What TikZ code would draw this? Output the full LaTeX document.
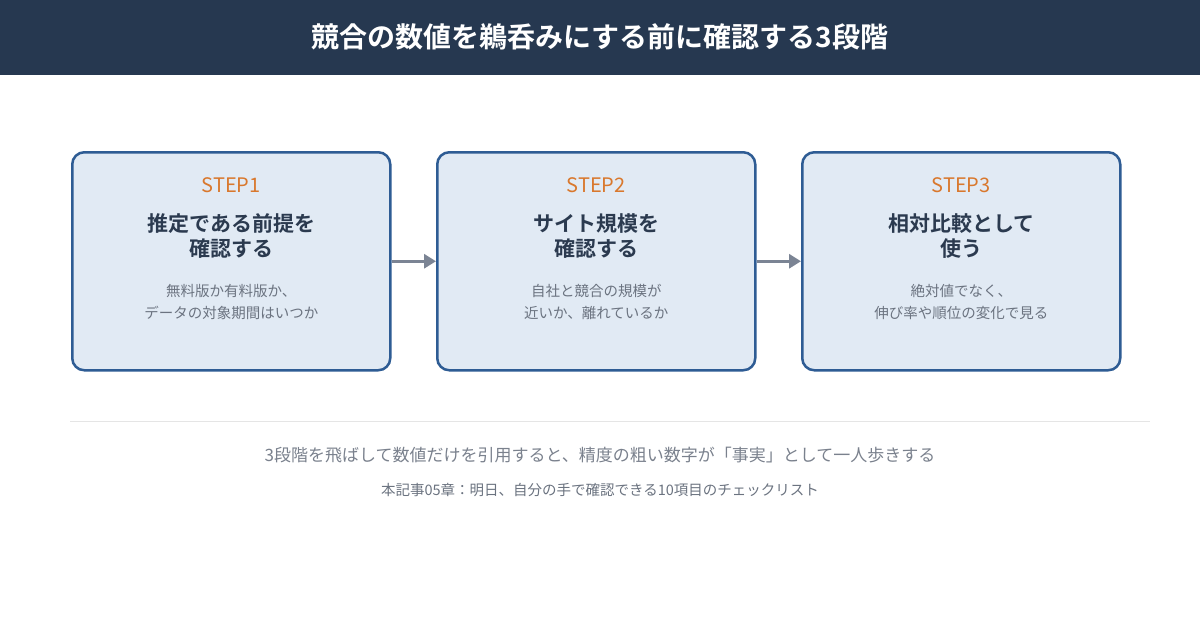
\documentclass[tikz,border=0pt]{standalone}
\usepackage{fontspec}
\setmainfont{Noto Sans CJK JP}[BoldFont={Noto Sans CJK JP Bold}]
\usetikzlibrary{arrows.meta}
\definecolor{navy}{HTML}{263850}
\definecolor{boxfill}{HTML}{E1EAF4}
\definecolor{boxline}{HTML}{2E5C94}
\definecolor{orng}{HTML}{D9782D}
\definecolor{ttl}{HTML}{2B3A4F}
\definecolor{desc}{HTML}{6B7380}
\definecolor{arr}{HTML}{7B8494}
\begin{document}
\begin{tikzpicture}[x=1pt,y=-1pt,
  box/.style={draw=boxline,line width=2.5pt,fill=boxfill,rounded corners=12pt,minimum width=318pt,minimum height=218pt,anchor=north west},
  steplbl/.style={text=orng,font=\fontsize{20}{24}\selectfont},
  ttlt/.style={text=ttl,font=\bfseries\fontsize{21}{25}\selectfont,align=center},
  dsc/.style={text=desc,font=\fontsize{14.5}{22}\selectfont,align=center},
  con/.style={draw=arr,line width=3.5pt,-{Triangle[length=12pt,width=14pt]}}]
\useasboundingbox (0,0) rectangle (1200,630);
\fill[white] (0,0) rectangle (1200,630);
\fill[navy] (0,0) rectangle (1200,75);
\node[text=white,font=\bfseries\fontsize{28}{32}\selectfont] (title) at (600,37) {競合の数値を鵜呑みにする前に確認する3段階};
\node[box] (b1) at (71,151) {};
\node[box] (b2) at (436,151) {};
\node[box] (b3) at (801,151) {};
\foreach \b/\s/\t/\d in {b1/STEP1/{推定である前提を\\確認する}/{無料版か有料版か、\\データの対象期間はいつか},
  b2/STEP2/{サイト規模を\\確認する}/{自社と競合の規模が\\近いか、離れているか},
  b3/STEP3/{相対比較として\\使う}/{絶対値でなく、\\伸び率や順位の変化で見る}}{
  \node[steplbl] (\b s) at ([yshift=-34pt]\b.north) {\s};
  \node[ttlt] (\b t) at ([yshift=-85pt]\b.north) {\t};
  \node[dsc] (\b d) at ([yshift=-151pt]\b.north) {\d};
}
\draw[con] (b1.east) -- (b2.west);
\draw[con] (b2.east) -- (b3.west);
\coordinate (l1) at (70,421); \coordinate (l2) at (1150,421);
\draw[black!10,line width=1pt] (l1) -- (l2);
\node[text=desc!90,font=\fontsize{17}{20}\selectfont] (n1) at (600,455) {3段階を飛ばして数値だけを引用すると、精度の粗い数字が「事実」として一人歩きする};
\node[text=desc,font=\fontsize{14.5}{18}\selectfont] (n2) at (600,490) {本記事05章：明日、自分の手で確認できる10項目のチェックリスト};
\end{tikzpicture}
\end{document}
